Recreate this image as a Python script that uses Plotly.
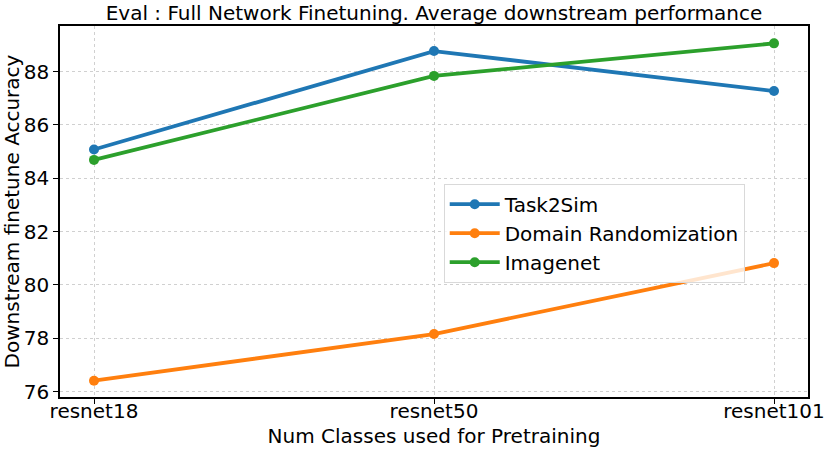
import plotly.graph_objects as go

# donnees
models = ["resnet18", "resnet50", "resnet101"]
task2sim = [85.08, 88.77, 87.27]
domain_rand = [76.41, 78.16, 80.82]
imagenet = [84.69, 87.84, 89.06]
y_ticks = [76, 78, 80, 82, 84, 86, 88]

FONT = "DejaVu Sans"

series = [
    ("Task2Sim", task2sim, "#1f77b4"),
    ("Domain Randomization", domain_rand, "#ff7f0e"),
    ("Imagenet", imagenet, "#2ca02c"),
]

fig = go.Figure()
for name, vals, color in series:
    fig.add_trace(go.Scatter(
        x=list(range(len(models))), y=vals,
        mode="lines+markers", name=name,
        line=dict(color=color, width=3.8),
        marker=dict(color=color, size=10),
    ))

fig.update_layout(
    width=831, height=452,
    margin=dict(l=60, r=23, t=26, b=55),
    paper_bgcolor="white", plot_bgcolor="white",
    font=dict(family=FONT, size=20, color="black"),
    title=dict(
        text="Eval : Full Network Finetuning. Average downstream performance",
        x=0.5, xref="paper", xanchor="center",
        y=0.972, yref="container", yanchor="middle",
        font=dict(family=FONT, size=20, color="black"),
    ),
    showlegend=True,
    legend=dict(
        x=0.513, y=0.575, xanchor="left", yanchor="top",
        bgcolor="rgba(255,255,255,0.8)",
        bordercolor="#d9d9d9", borderwidth=1,
        itemwidth=50,
        font=dict(family=FONT, size=20, color="black"),
    ),
)

fig.update_xaxes(
    range=[-0.1, 2.1], automargin=False,
    tickmode="array", tickvals=list(range(len(models))), ticktext=models,
    ticks="outside", ticklen=5, tickcolor="black", ticklabelstandoff=-10,
    showline=True, linecolor="black", linewidth=1.5, mirror=True,
    showgrid=True, gridcolor="#d0d0d0", griddash="dot", gridwidth=0.8,
    zeroline=False,
    title=dict(text="Num Classes used for Pretraining", standoff=7,
               font=dict(family=FONT, size=20)),
    tickfont=dict(family=FONT, size=20),
)
fig.update_yaxes(
    range=[75.8, 89.71], automargin=False,
    tickmode="array", tickvals=y_ticks,
    ticks="outside", ticklen=5, tickcolor="black",
    showline=True, linecolor="black", linewidth=1.5, mirror=True,
    showgrid=True, gridcolor="#d0d0d0", griddash="dot", gridwidth=0.8,
    zeroline=False,
    title=dict(text="Downstream finetune Accuracy", standoff=0,
               font=dict(family=FONT, size=20)),
    tickfont=dict(family=FONT, size=20),
)

# enlever la marge par defaut du <body> pour coller au cadre
fig.write_html("out.html", config={"displayModeBar": False},
               post_script="document.body.style.margin='0px';")
